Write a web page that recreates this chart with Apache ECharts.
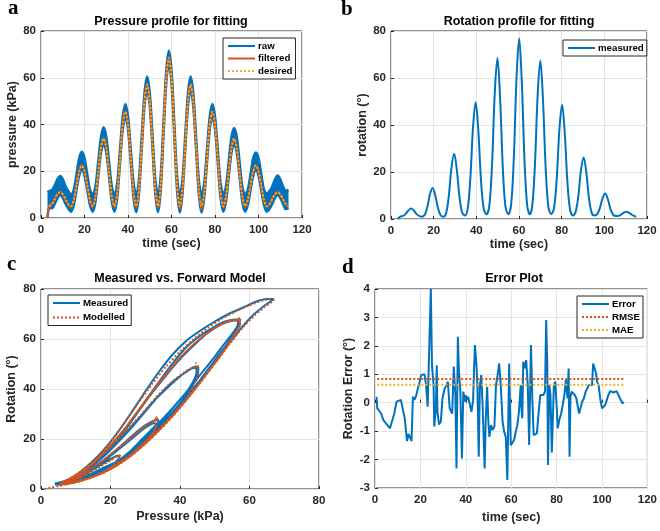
<!DOCTYPE html>
<html><head><meta charset="utf-8">
<script src="https://cdn.jsdelivr.net/npm/echarts@6/dist/echarts.min.js"></script>
<style>html,body{margin:0;padding:0;background:#fff}#c{width:660px;height:531px}</style>
</head><body><div id="c"></div>
<script>
// ---------- tick labels ----------
const ticksTime = [0, 20, 40, 60, 80, 100, 120];
const ticks80 = [0, 20, 40, 60, 80];
const ticksErr = [-3, -2, -1, 0, 1, 2, 3, 4];

// ---------- panel a: pressure ----------
const timeA = [3.8,5.05,6.3,7.55,8.8,10.05,11.3,12.55,13.8,15.05,16.3,17.55,18.8,20.05,21.3,22.55,23.8,25.05,26.3,27.55,28.8,30.05,31.3,32.55,33.8,35.05,36.3,37.55,38.8,40.05,41.3,42.55,43.8,45.05,46.3,47.55,48.8,50.05,51.3,52.55,53.8,55.05,56.3,57.55,58.8,60.05,61.3,62.55,63.8,65.05,66.3,67.55,68.8,70.05,71.3,72.55,73.8,75.05,76.3,77.55,78.8,80.05,81.3,82.55,83.8,85.05,86.3,87.55,88.8,90.05,91.3,92.55,93.8,95.05,96.3,97.55,98.8,100.05,101.3,102.55,103.8,105.05,106.3,107.55,108.8,110.05,111.3,112.55,113.8];
const pressureDesired = [5,5.9,8,10.1,11,10.1,8,5.9, 5,7.6,13.8,19.9,22.5,19.9,13.8,7.6, 5,9.2,19.5,29.8,34,29.8,19.5,9.2, 5,10.9,25.3,39.6,45.5,39.6,25.3,10.9, 5,12.6,31,49.4,57,49.4,31,12.6, 5,14.3,36.8,59.2,68.5,59.2,36.8,14.3, 5,12.6,31,49.4,57,49.4,31,12.6, 5,10.9,25.3,39.6,45.5,39.6,25.3,10.9, 5,9.2,19.5,29.8,34,29.8,19.5,9.2, 5,7.6,13.8,19.9,22.5,19.9,13.8,7.6, 5,5.9,8,10.1,11,10.1,8,5.9, 5];
const timeF = [3].concat(timeA);
const pressureFiltered = [0, 5.5,6,8.2,10.3,11.2,10.2,7.9,5.7, 4.8,7.5,13.9,20.1,22.8,19.8,13.6,7.4, 4.8,9.1,19.6,30,34.3,29.7,19.3,9, 4.7,10.8,25.4,39.8,45.8,39.5,25.1,10.7, 4.6,12.5,31.1,49.6,57.4,49.3,30.8,12.4, 4.5,14.2,36.9,59.4,69,59.1,36.6,14.1, 4,12.5,31.1,49.6,57.3,49.3,30.8,12.4, 3.6,10.8,25.4,39.8,45.7,39.5,25.1,10.7, 4.6,9.1,19.6,30,34.2,29.7,19.3,9, 4.8,7.5,13.9,20.1,22.7,19.8,13.6,7.4, 4.9,5.8,8.1,10.2,11.1,10,7.9,5.8, 5];
const rawTime = [3].concat(timeA);
const rawLower = [0, 4.5,4.2,6,8.5,9.8,8.5,6,4, 2.7,5.5,11.8,18,20.5,18,11.8,5.5, 2.7,7,17.5,27.8,32,27.8,17.5,7, 2.7,8.7,23.3,37.6,43.5,37.6,23.3,8.7, 2.5,10.4,29,47.4,55,47.4,29,10.4, 2.5,12,34.8,57.2,66.5,57.2,34.8,12, 2.3,10.4,29,47.4,55,47.4,29,10.4, 2.3,8.7,23.3,37.6,43.5,37.6,23.3,8.7, 2.7,7,17.5,27.8,32,27.8,17.5,7, 2.7,5.5,11.8,18,20.5,18,11.8,5.5, 2.7,3.8,6,8.5,9.8,8.5,6,3.8, 4];
const rawUpper = [11, 11.5,12,14,16.5,18,16.5,13.5,11.5, 10,12,18.5,25.5,28.3,25.5,18.5,12, 10,13.5,24,34.5,38.8,34.5,24,13.5, 9.5,15,29,43,48.8,43,29,15, 9.5,16.5,35,53,60.5,53,35,16.5, 9.5,18,40.5,62.5,71.5,62.5,40.5,18, 9.5,16.5,35,53,60.5,53,35,16.5, 9.5,15,29,43,48.8,43,29,15, 10,13.5,24,34.5,38.5,34.5,24,13.5, 10,12,18.5,25.5,28,25.5,18.5,12, 10.5,11.5,13.5,16.5,18.2,16.5,13.5,11.5, 12];

// ---------- panel b: rotation ----------
const timeB = [3.1,4.4,5.65,6.9,8.15,9.4,10.65,11.9,13.15,14.45,15.75,17,18.25,19.5,20.75,22,23.25,24.55,25.85,27.1,28.35,29.6,30.85,32.1,33.35,34.65,35.95,37.2,38.45,39.7,40.95,42.2,43.45,44.8,46.15,47.4,48.65,49.9,51.15,52.4,53.65,55,56.35,57.6,58.85,60.1,61.35,62.6,63.85,65.05,66.25,67.5,68.75,70,71.25,72.5,73.75,75.1,76.45,77.7,78.95,80.2,81.45,82.7,83.95,85.25,86.55,87.8,89.05,90.3,91.55,92.8,94.05,95.35,96.65,97.9,99.15,100.4,101.65,102.9,104.15,105.4,106.65,107.9,109.15,110.4,111.65,112.9,114.15,115];
const rotation = [0,1.0, 1.3,2.2,3.6,4.5,3.7,2.2,1.3,1.0, 1.7,5.0,10.5,13.2,10.0,4.7,1.6,1.0, 2.6,9.8,21.9,27.8,21,9.4,2.8,1.5, 4.4,17.4,39.1,49.7,37.3,16.3,4.4,2, 6,23.9,53.9,68.5,51.2,22,5.3,2, 6.5,26.7,60.3,76.8,57.4,24.4,5.7,2, 5.9,23.6,53.1,67.5,50.5,21.7,5.3,2, 4.8,17.4,38.3,48.6,36.4,15.6,3.9,1.5, 3.0,9.7,20.8,26.2,19.8,8.9,2.7,1.5, 2.1,4.6,8.8,10.8,8.4,4.2,1.8,1.3, 1.4,1.9,2.7,3.1,2.6,1.8,1.2,1.0];

// ---------- panel c: hysteresis loops [pressure, rotation] ----------
const measC1 = [[4,1.8],[6,1.9],[8,2.5],[10,3.5],[11,4.3],[10.8,4.6],[9,4],[7,3.2],[5,2.5],[4,2.2]];
const measC2 = [[6,2.2],[9,2.8],[12,3.8],[15,5.2],[18,7.3],[20,9],[22,11.5],[22.6,13],[22,13.3],[20,12],[17,9.5],[14,7],[11,5],[8,3.3],[5,2.3]];
const measC3 = [[7,2.4],[10,3.2],[14,4.8],[18,7.2],[22,10.5],[26,14.5],[30,19.5],[32.5,23],[33.8,26.5],[33.6,27.8],[32,27],[29,24.5],[26,21],[22,16],[18,11.5],[14,7.5],[10,4.5],[7,2.8],[5,2.2]];
const measC4 = [[7,2.3],[10,3.1],[14,4.7],[18,7],[22,10.3],[26,14.2],[30,19],[34,25],[38,31],[41,36],[43.5,41],[45,45.5],[45.3,48.5],[44.5,49],[42,47],[38,43],[34,37.5],[30,31],[26,24.5],[22,18.5],[18,13],[14,8.3],[10,4.8],[7,3],[5,2.2]];
const measC5 = [[7,2.3],[10,3],[14,4.6],[18,6.9],[22,10],[26,14],[30,18.8],[34,24.5],[38,30.5],[42,37],[46,44],[50,51.5],[53,57],[55.5,62],[57,65.5],[57.2,67.5],[56,67.8],[53,67],[50,65],[46,61.5],[42,57],[38,50.5],[34,43],[30,35],[26,27],[22,19.5],[18,13.5],[14,8.5],[10,4.8],[7,3],[5,2.2]];
const measC6 = [[7,2.3],[10,3],[14,4.6],[18,6.8],[22,9.8],[26,13.8],[30,18.5],[34,24],[38,30],[42,36.5],[46,43.5],[50,50.5],[54,58],[58,65],[61,69.5],[64,73],[66.5,75.5],[67,76],[65,76],[62,75],[58,72.5],[54,70],[50,67],[46,63.5],[42,59.5],[38,54],[34,47],[30,39],[26,30.5],[22,22.5],[18,15.5],[14,10],[10,5.5],[7,3.2],[5,2.2]];
const measC7 = [[7,2.4],[10,3.2],[14,5],[18,7.5],[22,10.8],[26,15],[30,20],[34,26],[38,32.5],[42,39],[46,46],[50,53],[53,58.5],[55.5,63],[56.7,66],[56.6,67.5],[55,67.3],[52,66],[48,62.5],[44,57.5],[40,52],[36,45.5],[32,38.5],[28,31],[24,23.5],[20,16.8],[16,11],[12,6.3],[8,3.4],[5,2.2]];
const measC8 = [[7,2.4],[10,3.2],[14,5],[18,7.5],[22,11],[26,15.5],[30,20.5],[34,26.5],[38,32.5],[41.5,38],[43.8,43],[44.8,47],[44.5,48.5],[43,48],[40,45],[36,40],[32,34.5],[28,28],[24,22],[20,16],[16,10.8],[12,6.4],[8,3.4],[5,2.2]];
const measC9 = [[7,2.4],[10,3.3],[14,5],[18,7.6],[22,11],[26,15.5],[29.5,20.5],[32,24],[33.2,26],[32.5,26.3],[30,24.5],[26,20],[22,15.5],[18,11],[14,7.2],[10,4.3],[7,2.7],[5,2.2]];
const measC10 = [[7,2.3],[10,3.1],[14,4.6],[18,6.8],[21,8.8],[22.3,10.5],[21,10.3],[18,8.5],[14,5.8],[10,3.8],[7,2.6],[5,2.2]];
const measC11 = [[7,2.2],[9,2.5],[11,3],[10,3],[8,2.6],[5,2.2],[4,2]];

const modelStart = [[1,0],[3,0.6],[5,1.2]];
const modelC1 = [[7,1.8],[9,2.6],[11,3.8],[11.2,4.6],[10,4.2],[8,3.2],[6,2.2],[5,1.7]];
const modelC2 = [[7,2],[9,2.4],[12,3.4],[15,4.8],[18,6.8],[20,8.5],[22,11],[22.8,13.5],[22,13.2],[20,11.5],[17,9],[14,6.5],[11,4.5],[8,2.9],[5.5,1.7]];
const modelC3 = [[7,1.9],[10,2.8],[14,4.4],[18,6.8],[22,10],[26,14],[30,19],[32.5,23],[33.5,27],[33.2,28.8],[32.8,27.5],[31,26],[28,23],[25,19.5],[21,15],[17,10.5],[13,6.8],[9,3.8],[6,2]];
const modelC4 = [[7,1.9],[10,2.8],[14,4.4],[18,6.6],[22,9.8],[26,13.8],[30,18.5],[34,24],[38,30],[41.5,35.5],[44,41.5],[45.3,46.5],[44.6,50.5],[45.2,49],[43.5,48.5],[41,46.5],[37,42],[33,36.5],[29,30],[25,24],[21,18],[17,12.8],[13,8.2],[9,4.6],[6,2.3]];
const modelC5 = [[7,1.9],[10,2.8],[14,4.4],[18,6.6],[22,9.6],[26,13.5],[30,18.2],[34,23.6],[38,29.5],[42,36],[46,43],[50,50.5],[53.5,57],[56,62.5],[57.3,66],[56.8,68.5],[57.5,67.5],[55,67.5],[52,66],[48,62.5],[44,58],[40,52.5],[36,46],[32,39],[28,31.5],[24,24],[20,17.5],[16,11.5],[12,6.8],[8,3.7],[6,2.4]];
const modelC6 = [[7,1.9],[10,2.8],[14,4.4],[18,6.5],[22,9.5],[26,13.3],[30,18],[34,23.3],[38,29.2],[42,35.8],[46,42.8],[50,50],[54,57.5],[58,64.5],[61.5,69.5],[64.5,73],[67,75.5],[66.5,76],[64,75.5],[60,73.5],[56,71],[52,68],[48,64.5],[44,60],[40,55],[36,49],[32,42],[28,34.5],[24,26.5],[20,19],[16,12.5],[12,7.5],[8,4],[6,2.5]];

// ---------- panel d: error ----------
const errTime = [0.7,1,1.9,2.7,3.7,5.2,6.6,7.3,8.5,9.5,10.2,11.4,12,13.1,14.1,14.8,15.6,16.1,16.7,17.4,18.2,18.9,19.7,20.3,21,21.8,22.5,23.2,23.9,24.6,25.1,25.8,26.1,26.8,27.2,27.5,28.2,29,29.7,30.7,31.6,32.1,32.9,33.6,34,34.7,35.4,35.9,36.5,37,37.6,38.3,38.9,39.6,39.9,40.3,41,41.8,42.5,43.2,44,44.7,45.1,45.7,46.2,46.8,47.4,48.3,48.8,49.4,49.9,50.4,51.1,51.8,52.6,53.3,54,54.7,55.4,56.2,56.9,57.6,58.3,59.1,59.8,60.5,61.3,62,62.7,63.4,64.2,64.4,64.9,65.3,66,66.6,67.3,67.9,68.7,69.3,69.9,70.6,71.3,72,72.8,73.5,74.2,74.9,75.4,75.9,76.2,76.8,77.3,77.9,78.8,79.4,80,80.5,81.2,82,82.7,83.4,84.1,84.8,85.3,85.7,86.1,86.6,87.3,88,88.7,89.2,89.9,90.6,91.3,92,92.8,93.5,94.2,94.9,95.6,96.1,96.7,97.4,97.8,98.5,99.2,100,100.7,101.4,102.1,102.8,103.6,104.3,105,105.7,106.4,106.9,107.6,108.3,109,109.7];
const errValue = [0.21,-0.2,-0.29,-0.38,-0.61,-0.76,-0.9,-0.93,-0.38,0.04,0.09,0.1,0.15,-0.55,-1.35,-1.1,-1.16,-1.35,0.21,0.1,0.27,0.5,0.74,0.97,0.95,1.0,0.62,-0.14,-0.08,4.0,1.32,0.62,-0.84,-0.2,1.32,-0.32,-0.76,-0.67,0.15,0.5,0.62,0.74,-0.2,-0.22,-0.38,1.27,0.27,-2.31,2.32,1.09,0.39,-1.96,0.39,0.04,0.27,0.09,0.21,0.27,-0.32,0.09,2.03,1.32,0.62,-1.9,0.62,0.97,-0.08,-2.31,-0.55,0.56,-0.61,-1.2,-0.79,-0.96,-0.84,0.62,0.97,1.38,0.62,-0.67,-1.02,-1.2,-2.72,1.38,-1.49,-1.55,-1.31,-1.02,-0.79,-0.32,0.62,-0.08,-0.55,1.44,1.21,1.5,0.62,-1.49,2.03,0.15,-1.14,-1.2,-1.08,-0.43,0.27,0.33,0.27,0.39,2.91,1.32,-2.19,0.62,0.27,-1.75,0.62,0.74,-0.08,-0.9,-0.61,-0.38,-0.08,0.27,0.8,0.15,1.2,-1.9,0.2,0.39,0.45,0.27,0.15,0.09,-0.38,-0.32,0.04,0.15,0.39,0.5,0.62,0.56,0.62,1.38,1.32,1.03,0.74,0.62,0.15,-0.2,-0.18,-0.08,0.09,0.27,0.41,0.39,0.36,0.33,0.41,0.45,0.21,0.09,-0.02,0.01];
const statTime = [1, 110];
const rmseValue = [0.83, 0.83];
const maeValue = [0.63, 0.63];

// ---------- styling ----------
const BLUE = '#0072BD', ORANGE = '#D95319', YELLOW = '#EDB120';
const FONT = '"Liberation Sans", Arial, Helvetica, sans-serif';
const AX = '#262626';
function pairs(xs, ys) { return xs.map((x, i) => [x, ys[i]]); }
function axis(gridIndex, ticks, name, nameGap, isY) {
  return {
    type: 'value', gridIndex, min: ticks[0], max: ticks[ticks.length - 1], interval: ticks[1] - ticks[0],
    name, nameLocation: 'middle', nameGap,
    nameTextStyle: { fontSize: 12.5, fontWeight: 'bold', color: AX, fontFamily: FONT },
    axisLine: { show: false },
    axisTick: { show: true, inside: true, length: 3, lineStyle: { color: AX, width: 1 } },
    axisLabel: { margin: isY ? 5 : 6, color: AX, fontSize: 11.5, fontWeight: 'bold', fontFamily: FONT },
    splitLine: { show: true, lineStyle: { color: '#e4e4e4', width: 1 } }
  };
}
function legend(left, top, names, gap) {
  return {
    left, top, orient: 'vertical', data: names, selectedMode: false,
    backgroundColor: '#fff', borderColor: AX, borderWidth: 1, borderRadius: 0,
    padding: [3, 3, 3, 4], itemGap: gap, itemWidth: 27, itemHeight: 8,
    itemStyle: { opacity: 0 },
    textStyle: { fontSize: 9.7, fontWeight: 'bold', color: '#000', fontFamily: FONT, padding: [0, 0, 0, -2] }
  };
}
function text(x, y, str, font, align) {
  return { type: 'text', x, y, silent: true,
    style: { text: str, font, fill: '#000', textAlign: align, align: align, textVerticalAlign: 'middle', verticalAlign: 'middle' } };
}
function base(name, xi, data, color, width, dash, smooth) {
  return { name, type: 'line', xAxisIndex: xi, yAxisIndex: xi, data, symbol: 'none', showSymbol: false,
    smooth: smooth, lineStyle: { color, width, type: dash || 'solid' }, itemStyle: { color }, emphasis: { disabled: true } };
}

const measured = [].concat(measC1, measC2, measC3, measC4, measC5, measC6, measC7, measC8, measC9, measC10, measC11);
const modelled = [].concat(modelStart, modelC1, modelC2, modelC3, modelC4, modelC5, modelC6, modelC5, modelC4, modelC3, modelC2, modelC1);

// band of the raw pressure signal, between its lower and upper envelopes
const rawBandSeries = {
  name: 'rawBand', type: 'custom', xAxisIndex: 0, yAxisIndex: 0, silent: true, clip: true,
  data: [[rawTime[0], rawLower[0]]], encode: { x: 0, y: 1 },
  renderItem: function (params, api) {
    const up = rawTime.map((t, i) => api.coord([t, rawUpper[i]]));
    const lo = rawTime.map((t, i) => api.coord([t, rawLower[i]])).reverse();
    return { type: 'polygon', shape: { points: up.concat(lo) }, style: { fill: BLUE, stroke: null } };
  }
};

const option = {
  animation: false,
  backgroundColor: '#fff',
  textStyle: { fontFamily: FONT },
  grid: [
    { left: 41, top: 31, width: 261, height: 187, show: true, borderColor: AX, borderWidth: 1, backgroundColor: 'transparent' },
    { left: 391, top: 31, width: 256, height: 188, show: true, borderColor: AX, borderWidth: 1, backgroundColor: 'transparent' },
    { left: 41, top: 289, width: 278, height: 200, show: true, borderColor: AX, borderWidth: 1, backgroundColor: 'transparent' },
    { left: 375, top: 289, width: 278, height: 199, show: true, borderColor: AX, borderWidth: 1, backgroundColor: 'transparent' }
  ],
  xAxis: [
    axis(0, ticksTime, 'time (sec)', 18.5, false),
    axis(1, ticksTime, 'time (sec)', 18, false),
    axis(2, ticks80, 'Pressure (kPa)', 21.5, false),
    axis(3, ticksTime, 'time (sec)', 23, false)
  ],
  yAxis: [
    axis(0, ticks80, 'pressure (kPa)', 20, true),
    axis(1, ticks80, 'rotation (°)', 17, true),
    axis(2, ticks80, 'Rotation (°)', 22.5, true),
    axis(3, ticksErr, 'Rotation Error (°)', 20, true)
  ],
  legend: [
    legend(223, 38, ['raw', 'filtered', 'desired'], 2.5),
    legend(563, 40, ['measured'], 2),
    legend(48, 295, ['Measured', 'Modelled'], 4.5),
    legend(577, 296, ['Error', 'RMSE', 'MAE'], 3)
  ],
  graphic: [
    text(171, 22, 'Pressure profile for fitting', 'bold 12.5px ' + FONT, 'center'),
    text(519, 22, 'Rotation profile for fitting', 'bold 12.5px ' + FONT, 'center'),
    text(180, 279, 'Measured vs. Forward Model', 'bold 12.5px ' + FONT, 'center'),
    text(514, 279, 'Error Plot', 'bold 12.5px ' + FONT, 'center'),
    text(8, 9, 'a', 'bold 21px "Liberation Serif", "Times New Roman", serif', 'left'),
    text(341, 10, 'b', 'bold 21px "Liberation Serif", "Times New Roman", serif', 'left'),
    text(7, 265, 'c', 'bold 21px "Liberation Serif", "Times New Roman", serif', 'left'),
    text(342, 268, 'd', 'bold 21px "Liberation Serif", "Times New Roman", serif', 'left')
  ],
  series: [
    rawBandSeries,
    base('rawLow', 0, pairs(rawTime, rawLower), BLUE, 2.5, null, 0.3),
    base('raw', 0, pairs(rawTime, rawUpper), BLUE, 2.5, null, 0.3),
    base('filtered', 0, pairs(timeF, pressureFiltered), ORANGE, 2, null, 0.3),
    base('desired', 0, pairs(timeA, pressureDesired), YELLOW, 2, [2, 2], 0.3),
    base('measured', 1, pairs(timeB, rotation), BLUE, 2, null, 0.35),
    base('Measured', 2, measured, BLUE, 2, null, 0.2),
    base('Modelled', 2, modelled, ORANGE, 2, [2, 2], 0.2),
    base('Error', 3, pairs(errTime, errValue), BLUE, 2, null, false),
    base('RMSE', 3, pairs(statTime, rmseValue), ORANGE, 2, [2, 2], false),
    base('MAE', 3, pairs(statTime, maeValue), YELLOW, 2, [2, 2], false)
  ]
};
const chart = echarts.init(document.getElementById('c'), null, { renderer: 'canvas' });
chart.setOption(option);
</script>
</body></html>
